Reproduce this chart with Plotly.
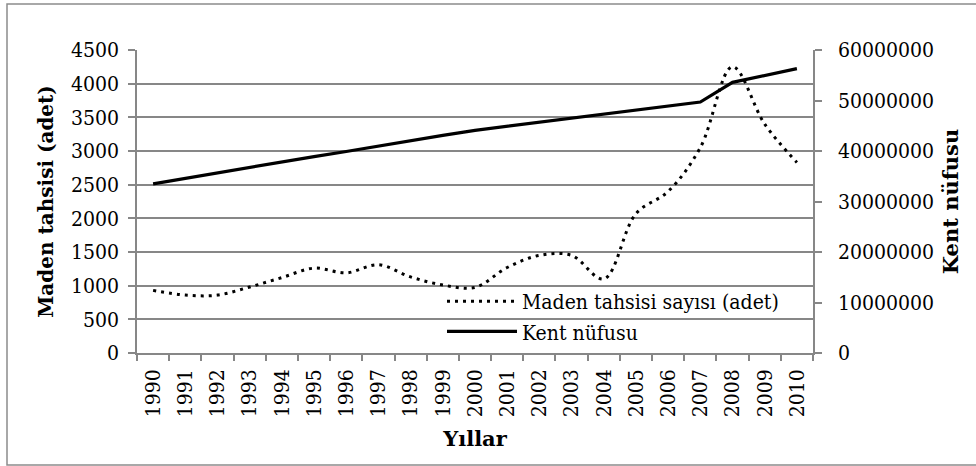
import plotly.graph_objects as go

years = [str(y) for y in range(1990, 2011)]
maden_tahsisi = [930, 860, 860, 980, 1120, 1260, 1190, 1310, 1130, 1010, 975,
                 1270, 1450, 1450, 1100, 2070, 2400, 3050, 4250, 3400, 2830]
kent_nufusu = [33500000, 34600000, 35600000, 36700000, 37800000, 38900000,
               39900000, 41000000, 42000000, 43100000, 44100000, 44900000,
               45700000, 46500000, 47300000, 48100000, 48900000, 49700000,
               53600000, 55000000, 56300000]

left_ticks = list(range(0, 4501, 500))
right_ticks = list(range(0, 60000001, 10000000))

FONT = "DejaVu Serif Condensed, DejaVu Serif"
TFONT = "DejaVu Serif"
GRID = "#878787"

fig = go.Figure()
fig.add_trace(go.Scatter(
    x=years, y=maden_tahsisi, name="Maden tahsisi sayısı (adet)",
    mode="lines", line=dict(color="black", width=3, dash="3px,5px", shape="spline", smoothing=1),
    yaxis="y"))
fig.add_trace(go.Scatter(
    x=years, y=kent_nufusu, name="Kent nüfusu",
    mode="lines", line=dict(color="black", width=3.2),
    yaxis="y2"))

W, H = 976, 466
PX0, PX1, PY0, PY1 = 137, 813, 50, 353
L, T, R, B = PX0, PY0, W - PX1, H - PY1
pw, ph = PX1 - PX0, PY1 - PY0

def px_to_paper_x(px):
    return (px - PX0) / pw

def px_to_paper_y(py):
    return (PY1 - py) / ph

fig.update_layout(
    width=W, height=H,
    margin=dict(l=L, r=R, t=T, b=B, pad=0, autoexpand=False),
    paper_bgcolor="white", plot_bgcolor="white",
    font=dict(family=FONT, size=21, color="black"),
    showlegend=True,
    legend=dict(
        x=px_to_paper_x(442), y=px_to_paper_y(281), xanchor="left", yanchor="top",
        bgcolor="rgba(0,0,0,0)", borderwidth=0,
        font=dict(family=FONT, size=21, color="black"),
        itemwidth=70, tracegroupgap=0,
    ),
    xaxis=dict(
        type="category", categoryorder="array", categoryarray=years,
        range=[-0.5, len(years) - 0.5], automargin=False,
        tickangle=-90, ticks="outside", ticklen=6, tickwidth=1.5, tickcolor=GRID,
        tickson="boundaries", showgrid=False,
        showline=True, linecolor=GRID, linewidth=1.5,
        tickfont=dict(family=FONT, size=21),
        title=dict(text="<b>Yıllar</b>", font=dict(family=TFONT, size=21), standoff=15),
        ticklabelstandoff=6,
    ),
    yaxis=dict(
        range=[0, 4500], tickvals=left_ticks, ticktext=[str(v) for v in left_ticks],
        automargin=False,
        ticks="outside", ticklen=7, tickwidth=1.5, tickcolor=GRID,
        showgrid=True, gridcolor=GRID, gridwidth=1.5,
        showline=True, linecolor=GRID, linewidth=1.5, zeroline=False,
        tickfont=dict(family=FONT, size=21),
        title=dict(text="<b>Maden tahsisi (adet)</b>", font=dict(family=TFONT, size=20), standoff=12),
        ticklabelstandoff=5,
    ),
    yaxis2=dict(
        range=[0, 60000000], tickvals=right_ticks, ticktext=[str(v) for v in right_ticks],
        overlaying="y", side="right", automargin=False,
        ticks="outside", ticklen=7, tickwidth=1.5, tickcolor=GRID,
        showgrid=False, showline=True, linecolor=GRID, linewidth=1.5, zeroline=False,
        tickfont=dict(family=FONT, size=21),
        title=dict(text="<b>Kent nüfusu</b>", font=dict(family=TFONT, size=21), standoff=10),
        ticklabelstandoff=12,
    ),
    shapes=[dict(
        type="rect", xref="paper", yref="paper",
        x0=px_to_paper_x(7), x1=px_to_paper_x(1000),
        y0=px_to_paper_y(465), y1=px_to_paper_y(4),
        line=dict(color="#8c8c8c", width=1.5), fillcolor="rgba(0,0,0,0)", layer="below",
    )],
)

fig.write_html("out.html", config={"displayModeBar": False},
               post_script="document.body.style.margin='0';")
